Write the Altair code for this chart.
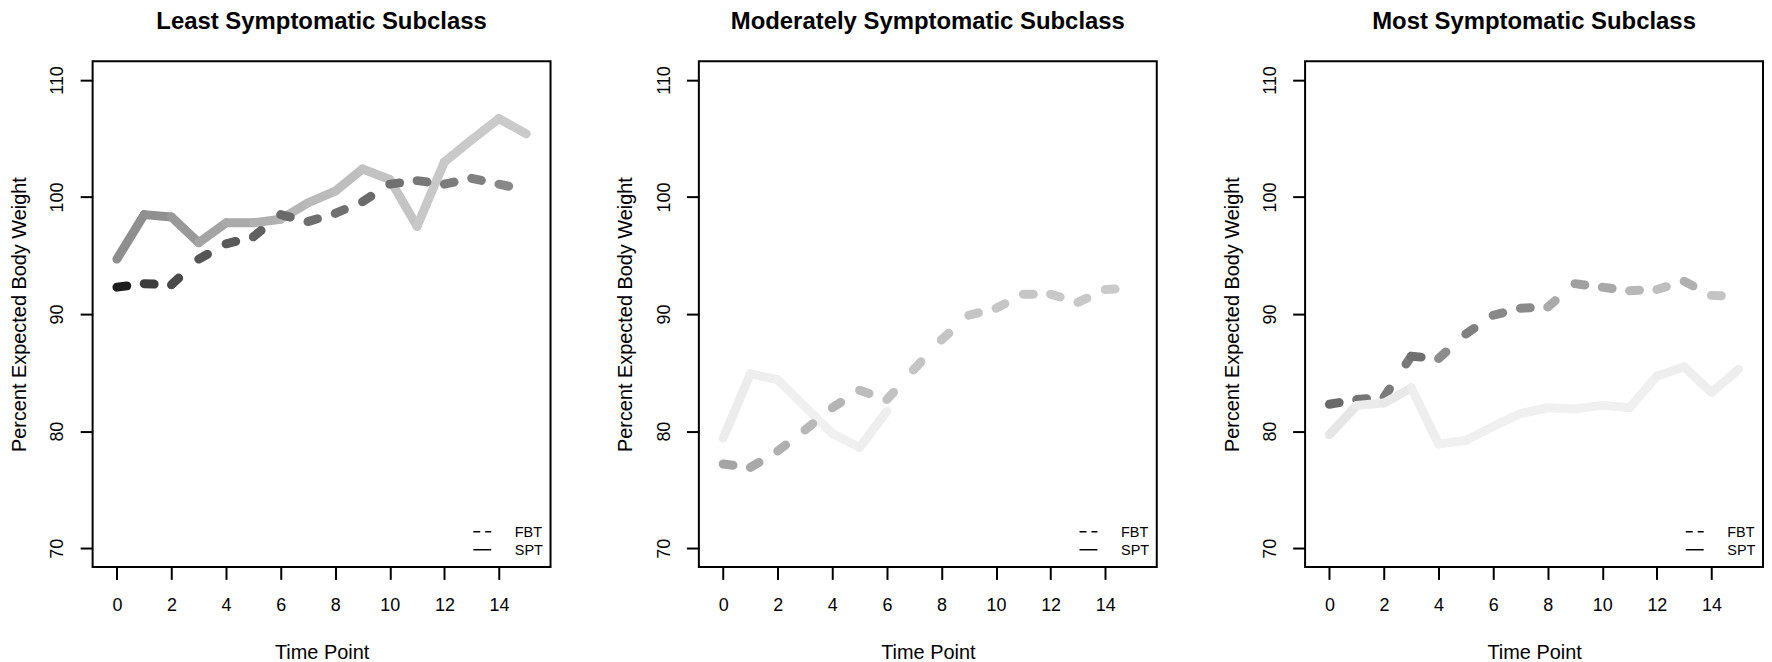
import altair as alt
import pandas as pd

# ---------------- data ----------------
time_points = list(range(16))
x_ticks = [0, 2, 4, 6, 8, 10, 12, 14]
y_ticks = [70, 80, 90, 100, 110]

titles = ["Least Symptomatic Subclass",
          "Moderately Symptomatic Subclass",
          "Most Symptomatic Subclass"]
legend_labels = ["FBT", "SPT"]

least_fbt = [92.3, 92.6, 92.5, 94.7, 96.0, 96.6, 98.5, 97.9, 98.6, 99.6, 101.1, 101.4, 101.1, 101.6, 101.1, 100.6]
least_spt = [94.7, 98.5, 98.3, 96.1, 97.8, 97.8, 98.1, 99.5, 100.5, 102.4, 101.5, 97.5, 103.0, 104.9, 106.7, 105.4]
mod_fbt = [77.2, 76.9, 78.3, 80.1, 82.0, 83.5, 82.7, 85.3, 87.8, 89.9, 90.5, 91.7, 91.7, 91.0, 92.1, 92.2]
mod_spt = [79.4, 84.9, 84.4, 82.1, 79.8, 78.6, 81.7]
most_fbt = [82.3, 82.7, 82.9, 86.4, 86.2, 88.3, 89.9, 90.5, 90.6, 92.6, 92.3, 92.0, 92.1, 92.8, 91.6, 91.5]
most_spt = [79.7, 82.2, 82.4, 83.7, 78.9, 79.2, 80.4, 81.5, 82.0, 81.9, 82.2, 82.0, 84.7, 85.5, 83.3, 85.3]

# grey level of each segment (between consecutive time points)
least_fbt_gray = ["#1e1e1e", "#3c3c3c", "#4a4a4a", "#555555", "#5a5a5a", "#606060", "#6a6a6a", "#6e6e6e",
                  "#707070", "#6a6a6a", "#707070", "#777777", "#7c7c7c", "#808080", "#888888"]
least_spt_gray = ["#8e8e8e", "#909090", "#999999", "#a4a4a4", "#aaaaaa", "#b0b0b0", "#b6b6b6", "#bababa",
                  "#bebebe", "#c2c2c2", "#c4c4c4", "#c8c8c8", "#c9c9c9", "#cacaca", "#cacaca"]
mod_fbt_gray = ["#a4a4a4", "#a8a8a8", "#b0b0b0", "#b8b8b8", "#b4b4b4", "#bcbcbc", "#c2c2c2", "#c4c4c4",
                "#c4c4c4", "#c4c4c4", "#c6c6c6", "#c6c6c6", "#c8c8c8", "#c8c8c8", "#cacaca"]
mod_spt_gray = ["#ececec", "#eeeeee", "#f0f0f0", "#f0f0f0", "#f0f0f0", "#eeeeee"]
most_fbt_gray = ["#6a6a6a", "#757575", "#7a7a7a", "#707070", "#8c8c8c", "#808080", "#888888", "#8a8a8a",
                 "#aaaaaa", "#a0a0a0", "#a8a8a8", "#b8b8b8", "#bebebe", "#b0b0b0", "#c4c4c4"]
most_spt_gray = ["#e6e6e6", "#ebebeb", "#e8e8e8", "#eeeeee", "#f0f0f0", "#f0f0f0", "#f0f0f0", "#f0f0f0",
                 "#f0f0f0", "#f0f0f0", "#f0f0f0", "#f0f0f0", "#eeeeee", "#eeeeee", "#eeeeee"]

FONT = "Liberation Sans"
W, H = 460, 508


def segments(values, grays, treatment):
    rows = []
    for i in range(len(values) - 1):
        for j in (i, i + 1):
            rows.append({"time": time_points[j], "pebw": values[j], "seg": i,
                         "gray": grays[i], "treatment": treatment})
    return pd.DataFrame(rows)


xscale = alt.Scale(domain=[-0.89, 15.89], nice=False, zero=False)
yscale = alt.Scale(domain=[68.4, 111.6], nice=False, zero=False)


def panel(title, fbt, fbt_gray, spt, spt_gray, spt_on_top):
    x = alt.X("time:Q", scale=xscale, axis=alt.Axis(values=x_ticks, title="Time Point"))
    y = alt.Y("pebw:Q", scale=yscale, axis=alt.Axis(values=y_ticks, title="Percent Expected Body Weight"))
    fbt_layer = alt.Chart(segments(fbt, fbt_gray, "FBT")).mark_line(
        strokeWidth=9, strokeCap="round", strokeJoin="round", strokeDash=[10, 30]
    ).encode(x=x, y=y, detail="seg:N", color=alt.Color("gray:N", scale=None))
    spt_layer = alt.Chart(segments(spt, spt_gray, "SPT")).mark_line(
        strokeWidth=9, strokeCap="round", strokeJoin="round"
    ).encode(x=x, y=y, detail="seg:N", color=alt.Color("gray:N", scale=None))

    leg_fbt_line = alt.Chart(pd.DataFrame({"label": [legend_labels[0]]})).mark_rule(
        color="black", strokeWidth=1.5, strokeDash=[7, 5]
    ).encode(x=alt.value(382.4), x2=alt.value(400.4), y=alt.value(472.7))
    leg_spt_line = alt.Chart(pd.DataFrame({"label": [legend_labels[1]]})).mark_rule(
        color="black", strokeWidth=1.5
    ).encode(x=alt.value(382.4), x2=alt.value(400.4), y=alt.value(490.7))
    leg_fbt_text = alt.Chart(pd.DataFrame({"label": [legend_labels[0]]})).mark_text(
        align="left", baseline="alphabetic", font=FONT, fontSize=14.5, color="black"
    ).encode(x=alt.value(424.1), y=alt.value(477.9), text="label:N")
    leg_spt_text = alt.Chart(pd.DataFrame({"label": [legend_labels[1]]})).mark_text(
        align="left", baseline="alphabetic", font=FONT, fontSize=14.5, color="black"
    ).encode(x=alt.value(424.1), y=alt.value(495.9), text="label:N")
    title_text = alt.Chart(pd.DataFrame({"title": [title]})).mark_text(
        align="center", baseline="alphabetic", font=FONT, fontSize=24, fontWeight="bold", color="black"
    ).encode(x=alt.value(W / 2), y=alt.value(-32), text="title:N")

    lines = [fbt_layer, spt_layer] if spt_on_top else [spt_layer, fbt_layer]
    return alt.layer(*lines, leg_fbt_line, leg_spt_line, leg_fbt_text, leg_spt_text, title_text).properties(
        width=W, height=H
    )


p1 = panel(titles[0], least_fbt, least_fbt_gray, least_spt, least_spt_gray, False)
p2 = panel(titles[1], mod_fbt, mod_fbt_gray, mod_spt, mod_spt_gray, False)
p3 = panel(titles[2], most_fbt, most_fbt_gray, most_spt, most_spt_gray, True)

chart = alt.hconcat(p1, p2, p3, spacing=149, bounds="flush").properties(
    padding={"left": 0, "top": 0, "right": 0, "bottom": 0}
).configure_view(
    stroke="black", strokeWidth=2
).configure_axis(
    grid=False, domain=False, ticks=True, tickColor="black", tickWidth=2, tickSize=12.5,
    labelFont=FONT, labelFontSize=18, labelColor="black",
    titleFont=FONT, titleFontSize=20, titleFontWeight="normal", titleColor="black",
).configure_axisX(
    labelAngle=0, labelBaseline="alphabetic", labelPadding=31.5,
    titleBaseline="alphabetic", titleAlign="center", titleX=230, titleY=91.6,
).configure_axisY(
    labelAngle=270, labelAlign="center", labelBaseline="alphabetic", labelPadding=17.4,
    titleAngle=270, titleAlign="center", titleBaseline="alphabetic", titleX=-67.3, titleY=254,
)

chart.save("out.html", embed_options={"renderer": "svg", "actions": False})
